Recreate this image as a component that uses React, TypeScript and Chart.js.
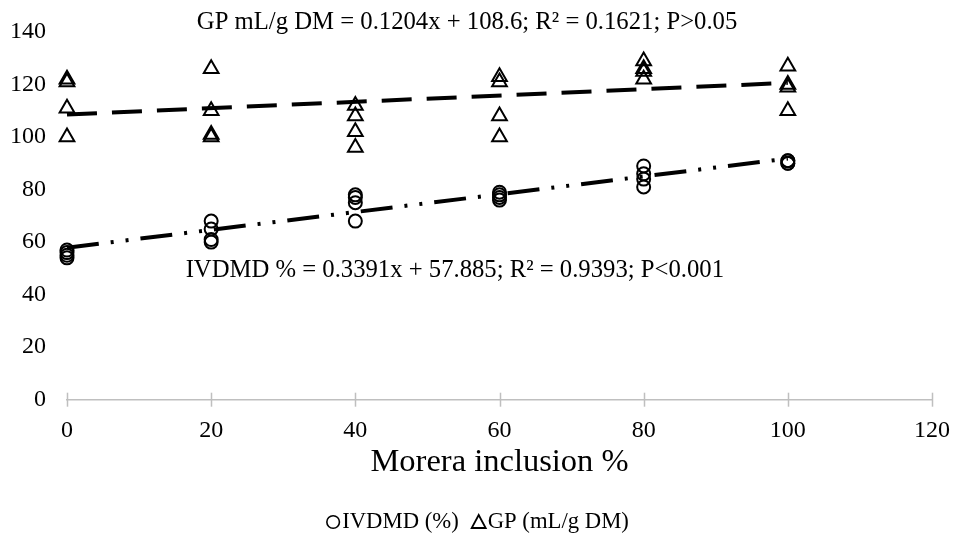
import React, { useEffect, useRef } from "react";
import { Chart, registerables } from "chart.js";

Chart.register(...registerables);

// Morera inclusion levels (%) and replicate observations
const inclusionLevels = [0, 20, 40, 60, 80, 100];
const ivdmdAt0 = [57, 56, 55, 54];
const ivdmdAt20 = [68, 65, 61, 60];
const ivdmdAt40 = [78, 77, 75, 68];
const ivdmdAt60 = [79, 78, 77, 76];
const ivdmdAt80 = [89, 86, 84, 81];
const ivdmdAt100 = [91, 91, 90, 90];

const gpAt0 = [122, 121, 111, 100];
const gpAt20 = [126, 110, 101, 100];
const gpAt40 = [112, 108, 102, 96];
const gpAt60 = [123, 121, 108, 100];
const gpAt80 = [129, 126, 125, 122];
const gpAt100 = [127, 120, 119, 110];

// Regression equations shown on the chart
const gpSlope = 0.1204;
const gpIntercept = 108.6;
const ivdmdSlope = 0.3391;
const ivdmdIntercept = 57.885;
const trendRange = [0, 100];

const xTicks = [0, 20, 40, 60, 80, 100, 120];
const yTicks = [0, 20, 40, 60, 80, 100, 120, 140];

const gpEquation = "GP mL/g DM = 0.1204x + 108.6; R² = 0.1621; P>0.05";
const ivdmdEquation = "IVDMD % = 0.3391x + 57.885; R² = 0.9393; P<0.001";
const xTitle = "Morera inclusion %";
const ivdmdLabel = "IVDMD (%)";
const gpLabel = "GP (mL/g DM)";

const ivdmdGroups = [ivdmdAt0, ivdmdAt20, ivdmdAt40, ivdmdAt60, ivdmdAt80, ivdmdAt100];
const gpGroups = [gpAt0, gpAt20, gpAt40, gpAt60, gpAt80, gpAt100];

const toPoints = (groups: number[][]) =>
  groups.flatMap((vals, i) => vals.map((v) => ({ x: inclusionLevels[i], y: v })));

const FONT = "'Liberation Serif', 'Times New Roman', serif";

const annotationPlugin = {
  id: "annotations",
  afterDraw(chart: any) {
    const { ctx, scales, width } = chart;
    const xs = scales.x;
    const ys = scales.y;
    ctx.save();
    // x-axis tick marks crossing the axis line
    ctx.strokeStyle = "#bfbfbf";
    ctx.lineWidth = 1.5;
    const yAxis = ys.getPixelForValue(0);
    xTicks.forEach((t) => {
      const px = Math.round(xs.getPixelForValue(t)) + 0.5;
      ctx.beginPath();
      ctx.moveTo(px, yAxis - 7);
      ctx.lineTo(px, yAxis + 7);
      ctx.stroke();
    });
    // equations
    ctx.fillStyle = "#000";
    ctx.font = `24.7px ${FONT}`;
    ctx.textAlign = "center";
    ctx.textBaseline = "middle";
    ctx.fillText(gpEquation, xs.getPixelForValue(55.5), ys.getPixelForValue(143.8));
    ctx.fillText(ivdmdEquation, xs.getPixelForValue(53.8), ys.getPixelForValue(49.1));

    // legend
    ctx.font = `22.7px ${FONT}`;
    ctx.textAlign = "left";
    const sym = 14;
    const gapSym = 2;
    const gapItems = 13;
    const w1 = ctx.measureText(ivdmdLabel).width;
    const w2 = ctx.measureText(gpLabel).width;
    const total = sym + gapSym + w1 + gapItems + sym + gapSym + w2;
    let x = width / 2 + 1 - total / 2;
    const ly = 522;
    ctx.strokeStyle = "#000";
    ctx.lineWidth = 1.6;
    ctx.beginPath();
    ctx.arc(x + sym / 2, ly, 6.3, 0, Math.PI * 2);
    ctx.stroke();
    x += sym + gapSym;
    ctx.fillText(ivdmdLabel, x, ly);
    x += w1 + gapItems;
    ctx.lineWidth = 1.8;
    ctx.beginPath();
    ctx.moveTo(x + sym / 2, ly - 7);
    ctx.lineTo(x + sym, ly + 6);
    ctx.lineTo(x, ly + 6);
    ctx.closePath();
    ctx.stroke();
    x += sym + gapSym;
    ctx.fillText(gpLabel, x, ly);
    ctx.restore();
  },
};

export default function App() {
  const canvasRef = useRef<HTMLCanvasElement | null>(null);

  useEffect(() => {
    const canvas = canvasRef.current;
    if (!canvas) return;
    const chart = new Chart(canvas, {
      type: "scatter",
      data: {
        datasets: [
          {
            label: ivdmdLabel,
            data: toPoints(ivdmdGroups),
            pointStyle: "circle",
            pointRadius: 6.5,
            pointBorderWidth: 2,
            borderColor: "#000",
            backgroundColor: "rgba(0,0,0,0)",
            clip: false,
          } as any,
          {
            label: gpLabel,
            data: toPoints(gpGroups),
            pointStyle: "triangle",
            pointRadius: 8.5,
            pointBorderWidth: 2,
            borderColor: "#000",
            backgroundColor: "rgba(0,0,0,0)",
            clip: false,
          } as any,
          {
            type: "line",
            label: "trendGP",
            data: trendRange.map((x) => ({ x, y: gpSlope * x + gpIntercept })),
            borderColor: "#000",
            borderWidth: 4,
            borderDash: [30, 15],
            pointRadius: 0,
            fill: false,
            clip: false,
          } as any,
          {
            type: "line",
            label: "trendIVDMD",
            data: trendRange.map((x) => ({ x, y: ivdmdSlope * x + ivdmdIntercept })),
            borderColor: "#000",
            borderWidth: 4,
            borderDash: [32, 12, 3, 12, 3, 12],
            pointRadius: 0,
            fill: false,
            clip: false,
          } as any,
        ],
      },
      options: {
        animation: false,
        responsive: false,
        layout: { padding: { top: 32, right: 4, left: 0, bottom: 75 } },
        plugins: {
          tooltip: { enabled: false },
          legend: { display: false },
        },
        scales: {
          x: {
            type: "linear",
            min: 0,
            max: 120,
            afterBuildTicks: (scale: any) => {
              scale.ticks = xTicks.map((v) => ({ value: v }));
            },
            ticks: { color: "#000", font: { family: FONT, size: 24 }, padding: 3 },
            grid: { display: false, tickLength: 14 },
            border: { display: true, color: "#bfbfbf", width: 1.5 },
            title: {
              display: true,
              text: xTitle,
              color: "#000",
              font: { family: FONT, size: 32.5, lineHeight: 1 },
              padding: { top: -2, bottom: 0 },
            },
          },
          y: {
            type: "linear",
            min: 0,
            max: 140,
            afterBuildTicks: (scale: any) => {
              scale.ticks = yTicks.map((v) => ({ value: v }));
            },
            ticks: { color: "#000", font: { family: FONT, size: 24 }, padding: 10 },
            grid: { display: false, tickLength: 11 },
            border: { display: false },
          },
        },
      },
      plugins: [annotationPlugin],
    });
    return () => chart.destroy();
  }, []);

  return (
    <div style={{ position: "fixed", left: 0, top: 0, width: 953, height: 554, background: "#fff" }}>
      <canvas ref={canvasRef} width={953} height={554} style={{ width: 953, height: 554 }} />
    </div>
  );
}
